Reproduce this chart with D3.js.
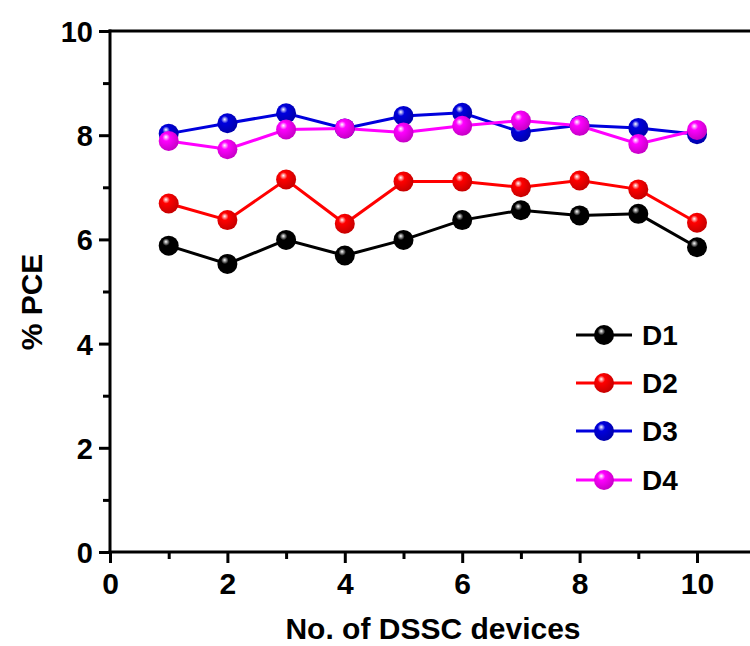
<!DOCTYPE html>
<html><head><meta charset="utf-8">
<script src="https://cdn.jsdelivr.net/npm/d3@7"></script>
<style>body{margin:0;background:#fff}svg{display:block}</style>
</head><body>
<script>
const devices = [1,2,3,4,5,6,7,8,9,10];
const D1 = [5.88,5.53,5.99,5.69,5.99,6.37,6.56,6.46,6.49,5.85];
const D2 = [6.69,6.37,7.15,6.30,7.11,7.11,7.00,7.13,6.96,6.32];
const D3 = [8.03,8.23,8.42,8.13,8.37,8.43,8.06,8.19,8.14,8.02];
const D4 = [7.89,7.73,8.11,8.13,8.05,8.18,8.28,8.18,7.83,8.10];
const seriesNames = ["D1","D2","D3","D4"];
const seriesColors = ["#000000","#ff0000","#0000dd","#ff00ff"];
const xTicks = [0,2,4,6,8,10];
const yTicks = [0,2,4,6,8,10];
const xLabel = "No. of DSSC devices";
const yLabel = "% PCE";

const W=750,H=646;
const svg=d3.select("body").append("svg").attr("width",W).attr("height",H);
const x=d3.scaleLinear().domain([0,11]).range([110,755.7]);
const y=d3.scaleLinear().domain([0,10]).range([552,31]);
const font="'Liberation Sans', Arial, sans-serif";

const defs=svg.append("defs");
seriesColors.forEach((c,i)=>{
  const g=defs.append("radialGradient").attr("id","g"+i).attr("cx","0.4").attr("cy","0.38").attr("r","0.62").attr("fx","0.36").attr("fy","0.3");
  g.append("stop").attr("offset","0").attr("stop-color","#ffffff");
  g.append("stop").attr("offset","0.3").attr("stop-color",c);
  g.append("stop").attr("offset","1").attr("stop-color",d3.color(c).darker(0.7));
});

const data=[D1,D2,D3,D4];
const line=d3.line().x((d,i)=>x(devices[i])).y(d=>y(d));
data.forEach((s,k)=>{
  svg.append("path").datum(s).attr("d",line).attr("fill","none").attr("stroke",seriesColors[k]).attr("stroke-width",3);
});
data.forEach((s,k)=>{
  svg.selectAll(null).data(s).enter().append("circle")
    .attr("cx",(d,i)=>x(devices[i])).attr("cy",d=>y(d)).attr("r",10)
    .attr("fill","url(#g"+k+")");
});

// axes
const xAxis=d3.axisBottom(x).tickValues(d3.range(0,11,1)).tickSize(10).tickFormat(d=>xTicks.includes(d)?d:"");
const gx=svg.append("g").attr("transform","translate(0,552)").call(xAxis);
gx.selectAll(".tick line").attr("stroke-width",3).attr("y2",d=>d%2===0?11:7);
gx.select(".domain").attr("stroke-width",3).attr("d","M108.5,0H756");
gx.selectAll("text").attr("font-family",font).attr("font-weight","bold").attr("font-size",30).attr("fill","#000").attr("y",42).attr("dy",0);

const yAxis=d3.axisLeft(y).tickValues(d3.range(0,11,1)).tickSize(10).tickFormat(d=>yTicks.includes(d)?d:"");
const gy=svg.append("g").attr("transform","translate(110,0)").call(yAxis);
gy.selectAll(".tick line").attr("stroke-width",3).attr("x2",d=>d%2===0?-11:-7);
gy.select(".domain").attr("stroke-width",3).attr("d","M0,553.5V29.5");
gy.selectAll("text").attr("font-family",font).attr("font-weight","bold").attr("font-size",29).attr("fill","#000").attr("x",-17).attr("dy","0.36em");

svg.append("line").attr("x1",108.5).attr("x2",756).attr("y1",31).attr("y2",31).attr("stroke","#000").attr("stroke-width",3);

svg.append("text").attr("x",433).attr("y",639).attr("text-anchor","middle").attr("font-family",font).attr("font-weight","bold").attr("font-size",30).text(xLabel);
svg.append("text").attr("transform","translate(42,302) rotate(-90)").attr("text-anchor","middle").attr("font-family",font).attr("font-weight","bold").attr("font-size",30).text(yLabel);

// legend
const ly=[335,383,431,480];
seriesNames.forEach((n,k)=>{
  const g=svg.append("g");
  g.append("line").attr("x1",576).attr("x2",632).attr("y1",ly[k]).attr("y2",ly[k]).attr("stroke",seriesColors[k]).attr("stroke-width",3);
  g.append("circle").attr("cx",604).attr("cy",ly[k]).attr("r",10).attr("fill","url(#g"+k+")");
  g.append("text").attr("x",642).attr("y",ly[k]).attr("dy","0.36em").attr("font-family",font).attr("font-weight","bold").attr("font-size",28).text(n);
});
</script>
</body></html>
